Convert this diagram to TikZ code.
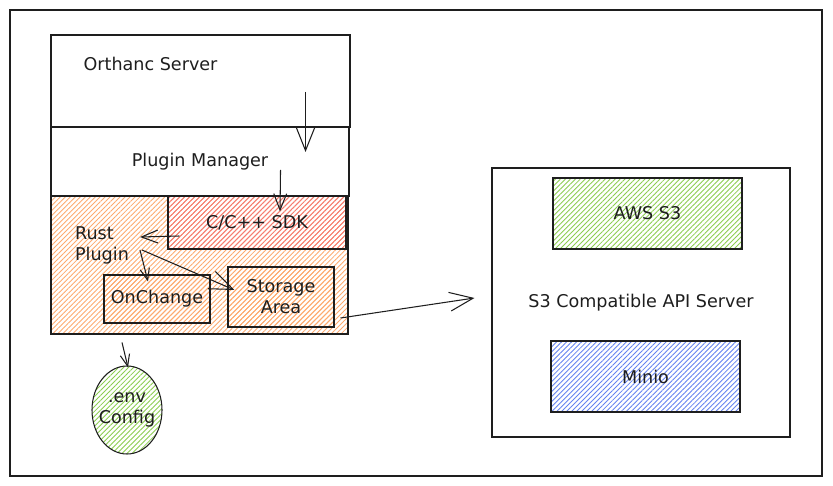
\documentclass[tikz,border=0pt]{standalone}
\usepackage{fontspec}
\setmainfont{DejaVu Sans}
\usepackage{xcolor}
\usepackage{tikz}
\usetikzlibrary{arrows.meta,shapes.geometric,positioning,patterns.meta,calc}
\definecolor{inkblack}   {RGB}{30,30,30}
\definecolor{hatchorange}{RGB}{253,170,110}
\definecolor{hatchred}   {RGB}{245,120,115}
\definecolor{hatchgreen} {RGB}{140,205,80}
\definecolor{hatchblue}  {RGB}{100,130,240}
\tikzset{
  lbl/.style    ={font=\fontsize{15}{18}\selectfont, text=inkblack,
                  align=center, inner sep=2pt},
  blk/.style 2 args={draw=inkblack, line width=0.9pt, lbl,
                  minimum width=#1cm, minimum height=#2cm},
  hatch/.style  ={pattern={Lines[angle=45, distance=3pt, line width=0.75pt]},
                  pattern color=#1},
  bigarr/.style ={-{Straight Barb[length=20pt, width=16pt]}, line width=0.9pt, inkblack},
  arr/.style    ={-{Straight Barb[length=14pt, width=11pt]}, line width=0.9pt, inkblack},
  smallarr/.style={-{Straight Barb[length=10pt, width=8pt]}, line width=0.9pt, inkblack},
}

\begin{document}
\begin{tikzpicture}[x=0.03cm, y=-0.03cm]

\useasboundingbox (0,0) rectangle (833,486);
\node[blk={24.36}{13.98}] (frame) at (416,243) {};

%% ─── Orthanc side ───────────────────────────────────────────────────────────
\node[blk={8.97}{2.76}] (orthanc) at (200.5,81) {};
\node[lbl, anchor=west] (orthanclbl) at (81,64) {Orthanc Server};

\node[blk={8.94}{2.07}] (plugmgr) at (200,161.5) {Plugin Manager};

\node[blk={8.91}{4.14}, hatch=hatchorange] (rustarea) at (199.5,265) {};
\node[blk={5.34}{1.59}, hatch=hatchred]    (sdk)      at (257,222.5) {C/C++ SDK};

\node[lbl, align=left] (rustplug) at (102,245) {Rust\\Plugin};

\node[blk={3.18}{1.44}, hatch=hatchorange] (onchange) at (157,299) {OnChange};
\node[blk={3.18}{1.80}, hatch=hatchorange] (storage)  at (281,297) {Storage\\Area};

\node[ellipse, draw=inkblack, line width=0.9pt, hatch=hatchgreen, inner sep=0pt,
      minimum width=2.1cm, minimum height=2.64cm]
  (envcfg) at (127,410) {};
\node[lbl] (envlbl) at (envcfg.center) {.env\\Config};

%% ─── S3 side ────────────────────────────────────────────────────────────────
\node[blk={8.94}{8.07}] (s3srv) at (641,302.5) {S3 Compatible API Server};

\node[blk={5.67}{2.13}, hatch=hatchgreen] (aws)   at (647.5,213.5) {AWS S3};
\node[blk={5.67}{2.13}, hatch=hatchblue]  (minio) at (645.5,376.5) {Minio};

%% ─── Arrows ─────────────────────────────────────────────────────────────────
\draw[bigarr] ([shift={(-45,11)}]orthanc.east) -- ([shift={(-44,-9.5)}]plugmgr.east);
\draw[arr]    ([shift={(-69,8.5)}]plugmgr.east) -- ([shift={(23,16)}]sdk.north);
\draw[arr]    ([shift={(12,13.5)}]sdk.west) -- ([shift={(38,-8)}]rustplug.center);
\draw[smallarr] ([shift={(38,5)}]rustplug.center) -- ([shift={(-9,7)}]onchange.north);
\draw[bigarr] ([shift={(40,5)}]rustplug.center) -- ([shift={(7,-7)}]storage.west);
\draw[bigarr] ([shift={(6,21)}]storage.east) -- ([shift={(-17,-4.5)}]s3srv.west);
\draw[smallarr] ([shift={(-77.5,8)}]rustarea.south) -- ([shift={(1,2)}]envcfg.north);

\end{tikzpicture}
\end{document}
